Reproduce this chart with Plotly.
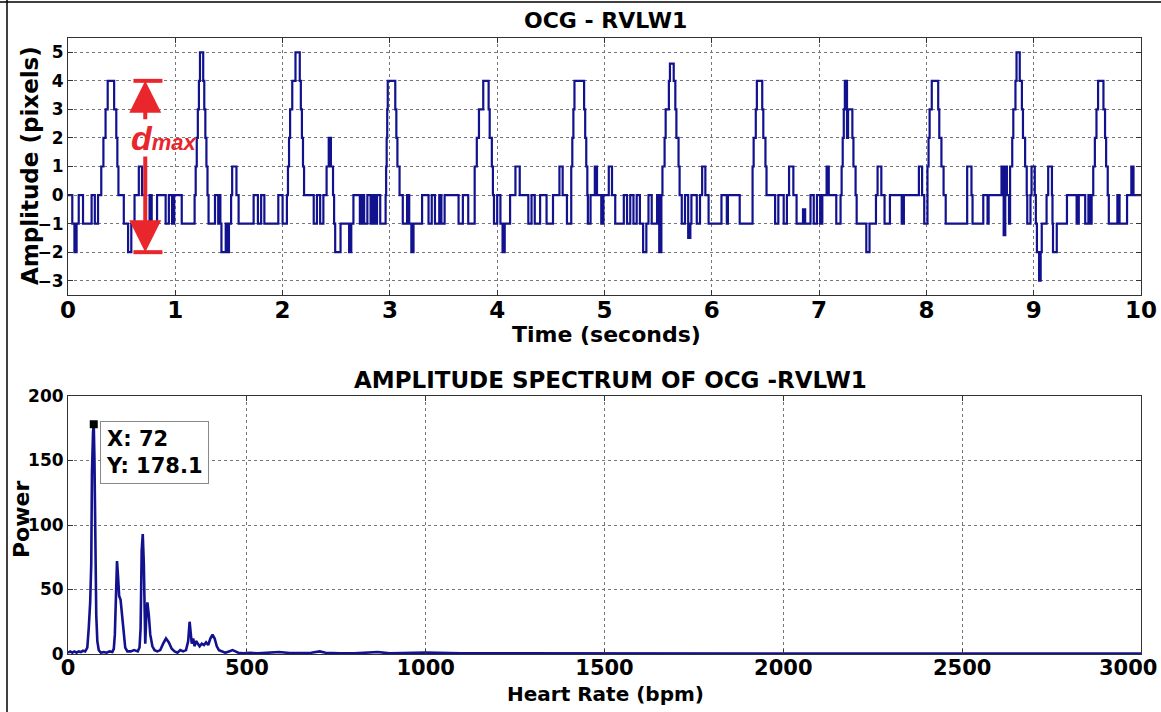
import plotly.graph_objects as go

# ---------------- data ----------------
# OCG - RVLW1 : stair signal, breakpoints (time in s -> amplitude in pixels)
ocg_t = [0.00, 0.04, 0.06, 0.08, 0.10, 0.14, 0.22, 0.25, 0.28, 0.31, 0.33, 0.35, 0.37, 0.43, 0.45, 0.46, 0.47,
         0.52, 0.56, 0.59, 0.62, 0.66, 0.69, 0.72, 0.76, 0.78, 0.83, 0.91, 0.94, 0.97, 0.99, 1.06,
         1.18, 1.19, 1.20, 1.21, 1.22, 1.23, 1.26, 1.27, 1.28, 1.29, 1.30, 1.31,
         1.37, 1.40, 1.41, 1.42, 1.43, 1.47, 1.49, 1.50, 1.52, 1.53, 1.57, 1.59,
         1.73, 1.77, 1.80, 1.83, 1.96, 2.00, 2.04, 2.05, 2.06, 2.07, 2.09, 2.12, 2.16, 2.17, 2.18, 2.19, 2.20,
         2.29, 2.32, 2.35, 2.38, 2.41, 2.43, 2.45, 2.47, 2.48, 2.49, 2.54, 2.62, 2.64, 2.66, 2.72, 2.74, 2.76,
         2.79, 2.82, 2.84, 2.86, 2.88, 2.91, 2.96, 2.965, 2.97, 2.975, 2.98, 3.05, 3.06, 3.07, 3.09,
         3.12, 3.16, 3.18, 3.20, 3.22,
         3.30, 3.36, 3.39, 3.42, 3.46, 3.48, 3.51, 3.64, 3.68, 3.73, 3.79, 3.81, 3.83, 3.87, 3.92, 3.93, 3.95,
         3.96, 3.97, 4.00, 4.03, 4.05, 4.07, 4.12, 4.17, 4.21, 4.29, 4.32, 4.35, 4.40, 4.46, 4.52, 4.58, 4.61,
         4.65, 4.69, 4.70, 4.71, 4.72, 4.81, 4.82, 4.83, 4.84, 4.845, 4.87, 4.91, 4.93,
         4.97, 4.99, 5.04, 5.07, 5.10, 5.18, 5.21, 5.24, 5.27, 5.30, 5.33, 5.36, 5.39, 5.41, 5.44, 5.49, 5.51,
         5.53, 5.54, 5.56, 5.57, 5.60, 5.61, 5.645, 5.66, 5.67, 5.69, 5.70, 5.72, 5.75, 5.78, 5.80, 5.81, 5.86,
         5.89, 5.91, 5.94, 5.97, 6.09, 6.14, 6.15, 6.26, 6.38, 6.39, 6.41, 6.42, 6.47, 6.48, 6.50, 6.51, 6.59,
         6.62, 6.67, 6.70, 6.72, 6.76, 6.79, 6.85, 6.87, 6.92, 6.95, 6.98, 7.01, 7.03, 7.07, 7.09, 7.16, 7.20,
         7.21, 7.22, 7.23, 7.24, 7.26, 7.27, 7.31, 7.32, 7.34, 7.35, 7.44, 7.47, 7.53, 7.545, 7.58, 7.61, 7.66,
         7.77, 7.79, 7.93, 7.96, 7.98, 8.01, 8.02, 8.03, 8.05, 8.11, 8.12, 8.14, 8.16, 8.18,
         8.38, 8.42, 8.43, 8.53, 8.57, 8.58, 8.70, 8.72, 8.735, 8.75, 8.77, 8.78, 8.80, 8.81, 8.83, 8.84, 8.87,
         8.89, 8.90, 8.92, 8.935, 8.94, 8.97, 8.98, 9.01, 9.02, 9.03, 9.05, 9.065, 9.075, 9.12, 9.135, 9.17,
         9.175, 9.18, 9.215, 9.31, 9.40, 9.42, 9.48, 9.51, 9.525, 9.54, 9.555, 9.57, 9.585, 9.60, 9.65, 9.665,
         9.675, 9.69, 9.70, 9.78, 9.80, 9.87, 9.91, 9.93]
ocg_v = [0, -1, -2, -1, 0, -1, 0, -1, 0, 1, 2, 3, 4, 3, 2, 1, 0,
         -1, -2, -1, 0, 1, 0, -1, 0, -1, 0, -1, 0, -1, 0, -1,
         0, 1, 2, 3, 4, 5, 4, 3, 2, 1, 0, -1,
         0, -1, 0, -1, -2, -1, -2, -1, 0, 1, 0, -1,
         0, -1, 0, -1, 0, -1, 0, 1, 2, 3, 4, 5, 4, 3, 2, 1, 0,
         -1, 0, -1, 0, 1, 2, 1, 0, -1, -2, -1, -2, -1, 0, -1, 0, -1,
         0, -1, 0, -1, 0, -1, 0, 1, 2, 3, 4, 3, 2, 1, 0,
         -1, 0, -1, -2, -1,
         0, -1, 0, -1, 0, -1, 0, -1, 0, -1, 1, 2, 3, 4, 3, 2, 1,
         0, -1, 0, -1, -2, -1, 0, 1, 0, -1, 0, -1, 0, -1, 0, 1, 0,
         -1, 1, 2, 3, 4, 3, 2, 1, 0, -1, 0, 1, 0,
         -1, 0, 1, 0, -1, 0, -1, 0, -1, 0, -1, -2, -1, 0, -1, 0, -2,
         0, 1, 2, 3, 4, 4.6, 4, 3, 2, 1, 0, -1, 0, -1.5, -1, 0, -1,
         0, 1, 0, -1, 0, -1, 0, -1, 1, 2, 3, 4, 3, 2, 1, 0, -1,
         0, -1, 0, 1, 0, -1, -0.5, -1, 0, -1, 0, -1, 0, 1, 0, -1, 0,
         1, 2, 3, 4, 2, 3, 2, 1, 0, -1, -2, -1, 0, 1, 0, -1, 0,
         -1, 0, 1, 0, -1, 1, 2, 3, 4, 3, 2, 1, 0, -1,
         1, 0, -1, 0, -1, 0, 1, -1.4, 1, 0, -1, 1, 2, 3, 4, 5, 4,
         3, 2, 1, 0, -1, 0, 1, 0, -1, -2, -3, -2, -1, 0, 1, 0,
         -1, -2, -1, 0, -1, 0, -1, 0, -1, 0, 1, 2, 3, 4, 3, 2,
         1, 0, -1, 0, -1, 0, 1, 0]
t_end = 10.0

# Amplitude spectrum (heart rate in bpm -> power)
spec_bpm = [0, 6, 12, 18, 24, 30, 36, 42, 48, 54, 58, 62, 65, 67, 70, 72, 74, 76, 79, 82, 86, 92,
            100, 108, 116, 124, 128, 131, 134, 137, 140, 143, 147, 151, 155, 160, 166, 175, 185, 195,
            200, 203, 206, 209, 212, 214, 216, 219, 222, 226, 230, 236, 242, 250, 258, 266, 274, 282,
            290, 298, 306, 314, 322, 330, 336, 340, 343, 346, 350, 354, 358, 362, 368, 374, 380, 386,
            392, 398, 404, 410, 416, 422, 430, 440, 450, 460, 468, 476, 490, 510, 530, 560, 590, 620,
            650, 680, 704, 720, 760, 800, 866, 900, 1000, 1100, 1200, 1500, 2000, 2500, 3000]
spec_pow = [1, 2, 1, 2, 1, 2, 1.5, 2.5, 2, 5, 20, 40, 70, 140, 172, 178.1, 150, 70, 30, 10, 3, 1,
            1.5, 1, 2, 1.5, 4, 15, 50, 72, 60, 45, 42, 30, 15, 5, 2, 2, 3, 2,
            5, 20, 80, 93, 70, 30, 8, 30, 40, 30, 15, 6, 3, 2, 3, 8, 12, 9,
            4, 2, 1, 3, 2, 3, 10, 25, 15, 8, 12, 6, 10, 8, 6, 8, 7, 9,
            7, 12, 15, 12, 6, 3, 2, 1, 2, 3, 2, 1, 0.5, 1, 0.5, 1, 1.5, 0.8,
            1, 1, 2, 1, 0.5, 0.5, 1.5, 0.5, 1.2, 0.5, 0.5, 0.4, 0.4, 0.3, 0.3]

hr_ticks = [0, 500, 1000, 1500, 2000, 2500, 3000]
hr_ticktext = ["0", "500", "1000", "1500", "2000", "2500", ""]   # last label drawn right-aligned below

tip_x = 72
tip_y = 178.1

# ---------------- figure ----------------
W, H = 1161, 712
FONT = "DejaVu Sans"
LINE = "#12128f"
RED = "#e8262c"

fig = go.Figure()
fig.add_trace(go.Scatter(x=ocg_t + [t_end], y=ocg_v + [ocg_v[-1]], mode="lines",
                         line=dict(color=LINE, width=2.2, shape="hv"),
                         xaxis="x", yaxis="y", showlegend=False))
fig.add_trace(go.Scatter(x=spec_bpm, y=spec_pow, mode="lines",
                         line=dict(color=LINE, width=2.6),
                         xaxis="x2", yaxis="y2", showlegend=False))
fig.add_trace(go.Scatter(x=[tip_x], y=[tip_y], mode="markers",
                         marker=dict(symbol="square", size=8, color="black"),
                         xaxis="x2", yaxis="y2", showlegend=False))

def ax(**kw):
    d = dict(showline=True, linecolor="#333", linewidth=1, mirror="ticks",
             ticks="inside", ticklen=5, tickcolor="#333",
             showgrid=True, gridcolor="#777", griddash="dot", gridwidth=1,
             zeroline=False, fixedrange=True, automargin=False)
    d.update(kw)
    return d

xdom = [68 / W, 1141 / W]
fig.update_layout(
    width=W, height=H, margin=dict(l=0, r=0, t=0, b=0, pad=0, autoexpand=False),
    paper_bgcolor="white", plot_bgcolor="white",
    xaxis=ax(domain=xdom, anchor="y", range=[0, 10], dtick=1, ticklabeloverflow="allow",
             ticklabelstandoff=-6,
             tickfont=dict(family=FONT, size=23, color="black", weight="bold")),
    yaxis=ax(domain=[(H - 295) / H, (H - 38) / H], anchor="x", range=[-3.5, 5.5],
             tickvals=[-3, -2, -1, 0, 1, 2, 3, 4, 5],
             tickfont=dict(family=FONT, size=17, color="black", weight="bold")),
    xaxis2=ax(domain=xdom, anchor="y2", range=[0, 3000], tickvals=hr_ticks, ticktext=hr_ticktext,
              ticklabeloverflow="allow", ticklabelstandoff=-5,
              tickfont=dict(family=FONT, size=21, color="black", weight="bold")),
    yaxis2=ax(domain=[(H - 654) / H, (H - 396) / H], anchor="x2", range=[0, 200], dtick=50,
              tickfont=dict(family=FONT, size=17, color="black", weight="bold")),
)

def txt(text, x, y, size, angle=0, **kw):
    d = dict(text=text, x=x, y=y, xref="paper", yref="paper", showarrow=False,
             font=dict(family=FONT, size=size, color="black", weight="bold"),
             textangle=angle, xanchor="center", yanchor="middle")
    d.update(kw)
    fig.add_annotation(**d)

txt("OCG - RVLW1", 605 / W, (H - 21) / H, 22)
txt("Time (seconds)", 606 / W, (H - 334) / H, 22)
txt("Amplitude (pixels)", 30 / W, (H - 166) / H, 23, angle=-90)
txt("AMPLITUDE SPECTRUM OF OCG -RVLW1", 610 / W, (H - 380) / H, 23)
txt("Heart Rate (bpm)", 605 / W, (H - 694) / H, 20)
txt("Power", 21 / W, (H - 520) / H, 22, angle=-90)
txt("3000", 1159 / W, (H - 668) / H, 21, xanchor="right")

# data tip
fig.add_annotation(text="X: 72<br>Y: 178.1", x=90, y=181, xref="x2", yref="y2",
                   xanchor="left", yanchor="top", showarrow=False, align="left",
                   font=dict(family=FONT, size=21, color="black", weight="bold"),
                   bgcolor="white", bordercolor="#888", borderwidth=1, borderpad=5)

# d_max double arrow
ax_t = 0.72
for head, tail in [(4, 2.6), (-2, 1.4)]:
    fig.add_annotation(x=ax_t, y=head, ax=ax_t, ay=tail, xref="x", yref="y", axref="x", ayref="y",
                       showarrow=True, arrowhead=2, arrowsize=1.6, arrowwidth=4, arrowcolor=RED, text="")
for yb in [4, -2]:
    fig.add_shape(type="line", xref="x", yref="y", x0=0.61, x1=0.88, y0=yb, y1=yb,
                  line=dict(color=RED, width=4))
fig.add_annotation(text="<span style='font-size:34px'>d</span><span style='font-size:22px'>max</span>",
                   x=0.57, y=2.0, xref="x", yref="y", xanchor="left", yanchor="middle",
                   showarrow=False,
                   font=dict(family="Liberation Sans", size=22, color=RED, style="italic", weight="bold"))

# outer frame lines
fig.add_shape(type="line", xref="paper", yref="paper", x0=7 / W, x1=7 / W, y0=0, y1=1,
              line=dict(color="black", width=1.5))
fig.add_shape(type="line", xref="paper", yref="paper", x0=0, x1=1, y0=(H - 2) / H, y1=(H - 2) / H,
              line=dict(color="black", width=1.5))

fig.write_html("out.html")
